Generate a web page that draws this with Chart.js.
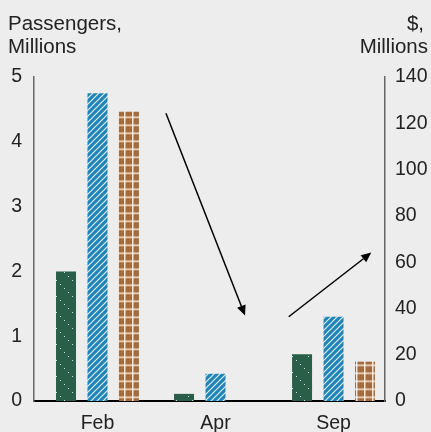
<!DOCTYPE html>
<html>
<head>
<meta charset="utf-8">
<script src="https://cdn.jsdelivr.net/npm/chart.js@4/dist/chart.umd.min.js"></script>
<style>
  html, body { margin: 0; padding: 0; background: #ededed; }
  #wrap { width: 431px; height: 432px; }
</style>
</head>
<body>
<div id="wrap"><canvas id="chart" width="431" height="432"></canvas></div>
<script>
// Datos del gráfico
const meses = ['Feb', 'Apr', 'Sep'];
const pasajerosA = [2.0, 0.11, 0.72];      // verde punteado (eje izq.)
const pasajerosB = [4.75, 0.42, 1.3];      // azul rayado (eje izq.)
const ingresos = [125, 0, 17];             // marrón cuadriculado (eje der., $M)
const ticksIzq = [0, 1, 2, 3, 4, 5];
const ticksDer = [0, 20, 40, 60, 80, 100, 120, 140];
// Flechas en unidades de los ejes (x = índice de mes, y = eje izquierdo)
const flechas = [
    { desde: [0.58, 4.44], hasta: [1.25, 1.32] },
    { desde: [1.62, 1.30], hasta: [2.32, 2.29] }
];

const FONDO = '#ededed';
const TEXTO = '#222';
const FUENTE = "'Liberation Sans', Arial, sans-serif";

// Patrones de relleno
function crearPatron(tam, dibujar, dx, dy) {
    const c = document.createElement('canvas');
    c.width = tam;
    c.height = tam;
    dibujar(c.getContext('2d'), tam);
    const p = c.getContext('2d').createPattern(c, 'repeat');
    if (dx || dy) p.setTransform(new DOMMatrix().translate(dx || 0, dy || 0));
    return p;
}

const patronVerde = crearPatron(16, (g, t) => {
    g.fillStyle = '#285e4a';
    g.fillRect(0, 0, t, t);
    g.fillStyle = 'rgba(255,255,255,0.8)';
    for (let i = 0; i < t; i += 4) g.fillRect(i, i, 1, 1);
});

const patronAzul = crearPatron(6, (g, t) => {
    g.fillStyle = '#2184b6';
    g.fillRect(0, 0, t, t);
    g.strokeStyle = 'rgba(255,255,255,0.85)';
    g.lineWidth = 1.2;
    g.beginPath();
    g.moveTo(-1, t + 1); g.lineTo(t + 1, -1);
    g.moveTo(-1, 1); g.lineTo(1, -1);
    g.moveTo(t - 1, t + 1); g.lineTo(t + 1, t - 1);
    g.stroke();
});

const patronMarron = crearPatron(8, (g, t) => {
    g.fillStyle = '#a36b40';
    g.fillRect(0, 0, t, t);
    g.fillStyle = 'rgba(255,245,235,0.9)';
    g.fillRect(0, 0, t, 1.5);
    g.fillRect(0, 0, 1.5, t);
}, 4, 4.5);

const aPuntos = arr => arr.map((v, i) => ({ x: i, y: v }));

// Fondo, títulos de ejes y flechas
const decoracion = {
    id: 'decoracion',
    beforeDraw(chart) {
        const ctx = chart.ctx;
        ctx.save();
        ctx.fillStyle = FONDO;
        ctx.fillRect(0, 0, chart.width, chart.height);
        ctx.fillStyle = TEXTO;
        ctx.font = '20.5px ' + FUENTE;
        ctx.textBaseline = 'alphabetic';
        ctx.textAlign = 'left';
        ctx.fillText('Passengers,', 8, 29.5);
        ctx.fillText('Millions', 8, 53);
        ctx.textAlign = 'right';
        ctx.fillText('$,', 424, 29.5);
        ctx.fillText('Millions', 428, 53);
        ctx.restore();
    },
    afterDatasetsDraw(chart) {
        const ctx = chart.ctx;
        const sx = chart.scales.x, sy = chart.scales.y;
        ctx.save();
        ctx.strokeStyle = '#000';
        ctx.fillStyle = '#000';
        ctx.lineWidth = 1.5;
        flechas.forEach(f => {
            const x1 = sx.getPixelForValue(f.desde[0]), y1 = sy.getPixelForValue(f.desde[1]);
            const x2 = sx.getPixelForValue(f.hasta[0]), y2 = sy.getPixelForValue(f.hasta[1]);
            const ang = Math.atan2(y2 - y1, x2 - x1);
            const largo = 10, ancho = 4.5;
            const bx = x2 - largo * Math.cos(ang), by = y2 - largo * Math.sin(ang);
            ctx.beginPath();
            ctx.moveTo(x1, y1);
            ctx.lineTo(bx, by);
            ctx.stroke();
            ctx.beginPath();
            ctx.moveTo(x2, y2);
            ctx.lineTo(bx + ancho * Math.sin(ang), by - ancho * Math.cos(ang));
            ctx.lineTo(bx - ancho * Math.sin(ang), by + ancho * Math.cos(ang));
            ctx.closePath();
            ctx.fill();
        });
        ctx.restore();
    }
};

new Chart(document.getElementById('chart'), {
    type: 'bar',
    data: {
        datasets: [
            { label: 'Pasajeros A', data: aPuntos(pasajerosA), backgroundColor: patronVerde, yAxisID: 'y' },
            { label: 'Pasajeros B', data: aPuntos(pasajerosB), backgroundColor: patronAzul, yAxisID: 'y' },
            { label: 'Ingresos', data: aPuntos(ingresos), backgroundColor: patronMarron, yAxisID: 'y2' }
        ]
    },
    options: {
        responsive: false,
        animation: false,
        categoryPercentage: 0.8,
        barPercentage: 0.635,
        layout: { padding: { top: 77, left: 0, right: 0, bottom: 0 } },
        plugins: {
            legend: { display: false },
            tooltip: { enabled: false }
        },
        scales: {
            x: {
                type: 'linear',
                offset: false,
                bounds: 'data',
                min: -0.538,
                max: 2.436,
                grid: { display: false, drawTicks: false, offset: false },
                border: { display: true, color: '#000', width: 2 },
                afterBuildTicks: s => { s.ticks = meses.map((m, i) => ({ value: i })); },
                afterFit: s => { s.height = 31; },
                ticks: {
                    padding: 11,
                    color: TEXTO,
                    font: { size: 19.5, family: FUENTE },
                    callback: v => meses[v]
                }
            },
            y: {
                position: 'left',
                min: 0,
                max: 5,
                grid: { display: false, drawTicks: false },
                border: { display: true, color: '#666', width: 1.5 },
                afterBuildTicks: s => { s.ticks = ticksIzq.map(v => ({ value: v })); },
                afterFit: s => { s.width = 34; },
                ticks: { padding: 12, color: TEXTO, font: { size: 19.5, family: FUENTE } }
            },
            y2: {
                position: 'right',
                min: 0,
                max: 140,
                grid: { display: false, drawTicks: false },
                border: { display: true, color: '#666', width: 1.5 },
                afterBuildTicks: s => { s.ticks = ticksDer.map(v => ({ value: v })); },
                afterFit: s => { s.width = 46; },
                ticks: { padding: 10, color: TEXTO, font: { size: 19.5, family: FUENTE } }
            }
        }
    },
    plugins: [decoracion]
});
</script>
</body>
</html>
